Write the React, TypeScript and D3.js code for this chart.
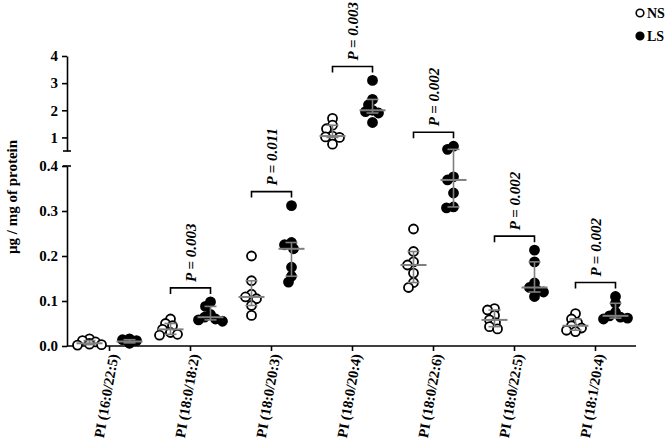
import * as d3 from "d3"
import { useRef, useEffect } from "react"

const categories = [
  "PI (16:0/22:5)",
  "PI (18:0/18:2)",
  "PI (18:0/20:3)",
  "PI (18:0/20:4)",
  "PI (18:0/22:6)",
  "PI (18:0/22:5)",
  "PI (18:1/20:4)",
]

const nsValues = [
  [0.016, 0.012, 0.009, 0.006, 0.004, 0.003, 0.002],
  [0.060, 0.050, 0.045, 0.037, 0.030, 0.026, 0.024],
  [0.200, 0.145, 0.115, 0.109, 0.105, 0.090, 0.068],
  [1.70, 1.45, 1.32, 1.05, 1.02, 1.00, 0.75],
  [0.260, 0.210, 0.187, 0.180, 0.162, 0.141, 0.130],
  [0.083, 0.080, 0.068, 0.058, 0.052, 0.043, 0.038],
  [0.072, 0.060, 0.052, 0.045, 0.040, 0.035, 0.032],
]

const lsValues = [
  [0.016, 0.014, 0.012, 0.010, 0.008, 0.007, 0.006],
  [0.098, 0.088, 0.070, 0.064, 0.060, 0.058, 0.055],
  [0.312, 0.230, 0.225, 0.216, 0.175, 0.155, 0.142],
  [3.10, 2.40, 2.20, 2.00, 1.95, 1.90, 1.55],
  [0.444, 0.437, 0.376, 0.369, 0.340, 0.309, 0.307],
  [0.213, 0.187, 0.140, 0.130, 0.125, 0.120, 0.110],
  [0.110, 0.095, 0.075, 0.067, 0.064, 0.062, 0.060],
]

// index into categories, p label
const pValues = [
  { cat: 1, label: "P = 0.003" },
  { cat: 2, label: "P = 0.011" },
  { cat: 3, label: "P = 0.003" },
  { cat: 4, label: "P = 0.002" },
  { cat: 5, label: "P = 0.002" },
  { cat: 6, label: "P = 0.002" },
]

const lowerTicks = [0, 0.1, 0.2, 0.3, 0.4]
const upperTicks = [1, 2, 3, 4]

// prism style quantile: (n+1)p
function quant(vals: number[], p: number) {
  const s = [...vals].sort((a, b) => a - b)
  const pos = (s.length + 1) * p - 1
  const lo = Math.max(0, Math.min(s.length - 1, Math.floor(pos)))
  const hi = Math.max(0, Math.min(s.length - 1, Math.ceil(pos)))
  return s[lo] + (s[hi] - s[lo]) * (pos - Math.floor(pos))
}

export default function App() {
  const ref = useRef<SVGSVGElement>(null)

  useEffect(() => {
    const width = 670
    const height = 446
    const axisX = 67
    const r = 4.5
    const font = "'Liberation Serif', 'Times New Roman', serif"

    const x = d3.scaleBand().domain(categories).range([69, 636])
    const yLow = d3.scaleLinear().domain([0, 0.4]).range([346, 166])
    const yUp = d3.scaleLinear().domain([0.5, 4]).range([151, 56])
    const y = (v: number) => (v < 0.5 ? yLow(v) : yUp(v))
    const cx = (i: number) => (x(categories[i]) as number) + x.bandwidth() / 2

    const svg = d3.select(ref.current)
    svg.selectAll("*").remove()
    svg.attr("width", width).attr("height", height)

    // x axis
    const xAxis = svg.append("g")
      .attr("transform", `translate(0,${yLow(0)})`)
      .call(d3.axisBottom(x).tickSize(5).tickSizeOuter(0).tickFormat(() => ""))
    xAxis.select(".domain").attr("d", `M${axisX},0H636`).attr("stroke-width", 1.6)
    xAxis.selectAll(".tick line").attr("stroke-width", 1.6)

    svg.append("g")
      .selectAll("text")
      .data(categories)
      .join("text")
      .attr("transform", (d, i) => `translate(${cx(i) + 4},354) rotate(-80)`)
      .attr("text-anchor", "end")
      .attr("dy", "0.35em")
      .attr("font-family", font)
      .attr("font-weight", "bold")
      .attr("font-size", 14.5)
      .text(d => d)

    // y axes, broken
    const drawY = (scale: d3.ScaleLinear<number, number>, ticks: number[], fmt: string) => {
      const g = svg.append("g")
        .attr("transform", `translate(${axisX},0)`)
        .call(d3.axisLeft(scale).tickValues(ticks).tickSize(5).tickSizeOuter(0).tickFormat(d3.format(fmt)))
      g.selectAll(".domain").attr("stroke-width", 1.6)
      g.selectAll(".tick line").attr("stroke-width", 1.6)
      g.selectAll(".tick text")
        .attr("font-family", font)
        .attr("font-weight", "bold")
        .attr("font-size", 15)
        .attr("fill", "#000")
        .attr("x", -9)
    }
    drawY(yLow, lowerTicks, ".1f")
    drawY(yUp, upperTicks, "d")

    // break caps
    svg.append("g")
      .selectAll("line")
      .data([yUp(0.5), yLow(0.4)])
      .join("line")
      .attr("x1", axisX - 4).attr("x2", axisX + 4)
      .attr("y1", d => d).attr("y2", d => d)
      .attr("stroke", "#000").attr("stroke-width", 1.6)

    svg.append("text")
      .attr("transform", `translate(17,197) rotate(-90)`)
      .attr("text-anchor", "middle")
      .attr("font-family", font)
      .attr("font-weight", "bold")
      .attr("font-size", 15)
      .text("µg / mg of protein")

    // dodge points so they don't pile on top of each other
    const dodge = (vals: number[], center: number) => {
      const placed: { x: number; y: number }[] = []
      const order = vals.map((v, i) => i).sort((a, b) => vals[b] - vals[a])
      const out: { x: number; y: number }[] = new Array(vals.length)
      order.forEach(i => {
        const py = y(vals[i])
        let best = 0
        for (let k = 0; k <= 24; k++) {
          const off = (k % 2 === 0 ? 1 : -1) * Math.ceil(k / 2)
          const ok = placed.every(p => Math.hypot(p.x - (center + off), p.y - py) >= 6.5)
          if (ok) { best = off; break }
          if (k === 24) best = 0
        }
        const pt = { x: center + best, y: py }
        placed.push(pt)
        out[i] = pt
      })
      return out
    }

    const groups = [
      { vals: nsValues, shift: -20, fill: "#fff" },
      { vals: lsValues, shift: 20, fill: "#000" },
    ]

    groups.forEach(gr => {
      gr.vals.forEach((vals, i) => {
        const c = cx(i) + gr.shift
        const pts = dodge(vals, c)
        svg.append("g")
          .selectAll("circle")
          .data(pts)
          .join("circle")
          .attr("cx", d => d.x)
          .attr("cy", d => d.y)
          .attr("r", r)
          .attr("fill", gr.fill)
          .attr("stroke", "#000")
          .attr("stroke-width", 1.8)

        const med = d3.median(vals) as number
        const q1 = quant(vals, 0.25)
        const q3 = quant(vals, 0.75)
        const g = svg.append("g").attr("stroke", "#7f7f7f").attr("fill", "none")
        g.append("line").attr("x1", c).attr("x2", c).attr("y1", y(q1)).attr("y2", y(q3)).attr("stroke-width", 1.6)
        g.selectAll(".cap")
          .data([q1, q3])
          .join("line")
          .attr("x1", c - 6).attr("x2", c + 6)
          .attr("y1", d => y(d)).attr("y2", d => y(d))
          .attr("stroke-width", 1.6)
        g.append("line").attr("x1", c - 13).attr("x2", c + 13).attr("y1", y(med)).attr("y2", y(med)).attr("stroke-width", 2)
      })
    })

    // significance brackets
    pValues.forEach(p => {
      const c = cx(p.cat)
      const top = d3.min([...nsValues[p.cat], ...lsValues[p.cat]].map(v => y(v))) as number
      const by = top - 14
      svg.append("path")
        .attr("d", `M${c - 20},${by + 6}V${by}H${c + 20}V${by + 6}`)
        .attr("fill", "none")
        .attr("stroke", "#000")
        .attr("stroke-width", 1.6)
      svg.append("text")
        .attr("transform", `translate(${c},${by - 6}) rotate(-90)`)
        .attr("dy", "0.35em")
        .attr("font-family", font)
        .attr("font-weight", "bold")
        .attr("font-style", "italic")
        .attr("font-size", 15)
        .text(p.label)
    })

    // legend
    const legend = [
      { label: "NS", fill: "#fff" },
      { label: "LS", fill: "#000" },
    ]
    const lg = svg.append("g").selectAll("g").data(legend).join("g")
      .attr("transform", (d, i) => `translate(640,${13 + i * 23})`)
    lg.append("circle").attr("r", 3.8).attr("fill", d => d.fill).attr("stroke", "#000").attr("stroke-width", 1.6)
    lg.append("text")
      .attr("x", 7)
      .attr("dy", "0.35em")
      .attr("font-family", font)
      .attr("font-weight", "bold")
      .attr("font-size", 14)
      .text(d => d.label)
  }, [])

  return (
    <div style={{ position: "absolute", left: 0, top: 0 }}>
      <svg ref={ref}></svg>
    </div>
  )
}
